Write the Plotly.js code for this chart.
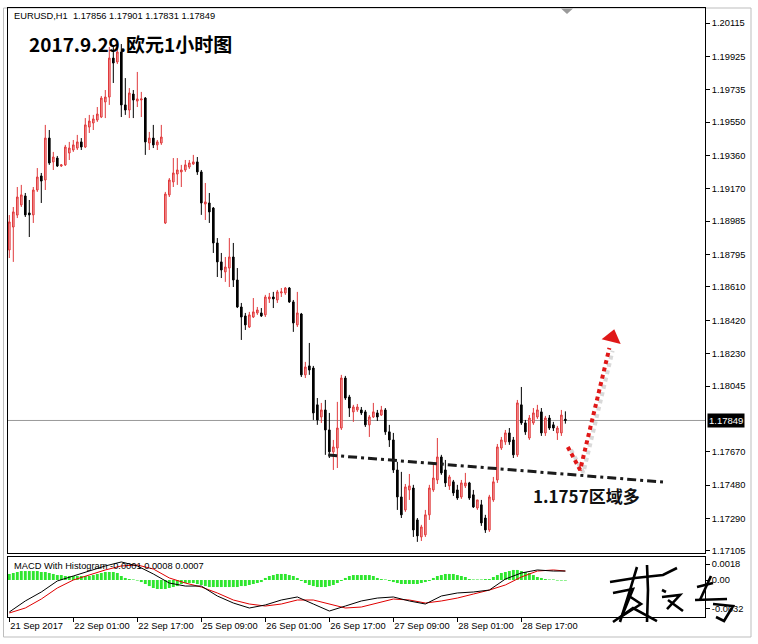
<!DOCTYPE html>
<html><head><meta charset="utf-8">
<script src="https://cdn.plot.ly/plotly-3.0.1.min.js"></script>
<style>html,body{margin:0;padding:0;background:#fff}#chart{width:758px;height:644px}</style>
</head><body><div id="chart"></div>
<script>
// ---- DATA (EURUSD H1, bar index 0 = 21 Sep 2017 09:00) ----
const open = [
1.18821,1.18952,1.19020,1.19078,1.19129,1.19032,1.19021,1.19163,1.19243,1.19220,
1.19459,1.19323,1.19345,1.19300,1.19306,1.19374,1.19391,1.19402,1.19437,1.19408,
1.19522,1.19545,1.19562,1.19579,1.19665,1.19693,1.19915,1.19893,1.19950,1.19648,
1.19619,1.19710,1.19670,1.19676,1.19687,1.19431,1.19459,1.19420,1.19431,1.18975,
1.19135,1.19209,1.19254,1.19266,1.19277,1.19294,1.19311,1.19323,1.19266,1.19083,
1.19089,1.19060,1.18861,1.18753,1.18696,1.18718,1.18781,1.18650,1.18496,1.18445,
1.18382,1.18439,1.18462,1.18462,1.18451,1.18542,1.18553,1.18536,1.18576,1.18576,
1.18604,1.18525,1.18394,1.18456,1.18109,1.18160,1.18148,1.17938,1.17869,1.17909,
1.17795,1.17670,1.17692,1.17806,1.18091,1.17983,1.17898,1.17909,1.17909,1.17898,
1.17824,1.17869,1.17892,1.17880,1.17909,1.17784,1.17738,1.17567,1.17413,1.17339,
1.17453,1.17464,1.17282,1.17185,1.17197,1.17311,1.17453,1.17510,1.17641,1.17567,
1.17476,1.17499,1.17453,1.17413,1.17476,1.17493,1.17425,1.17350,1.17368,1.17293,
1.17225,1.17396,1.17510,1.17692,1.17727,1.17778,1.17738,1.17653,1.17938,1.17835,
1.17749,1.17835,1.17869,1.17898,1.17778,1.17863,1.17824,1.17778,1.17778,1.17856];
const high = [
1.19020,1.19066,1.19180,1.19192,1.19146,1.19106,1.19180,1.19288,1.19260,1.19534,
1.19505,1.19380,1.19357,1.19311,1.19420,1.19437,1.19448,1.19477,1.19459,1.19573,
1.19591,1.19591,1.19636,1.19699,1.19733,1.19978,1.19978,1.20007,1.19995,1.19801,
1.19744,1.19733,1.19836,1.19722,1.19693,1.19494,1.19534,1.19448,1.19534,1.19152,
1.19231,1.19345,1.19345,1.19306,1.19334,1.19334,1.19363,1.19351,1.19277,1.19203,
1.19146,1.19066,1.18889,1.18804,1.18781,1.18889,1.18861,1.18718,1.18519,1.18462,
1.18468,1.18547,1.18496,1.18490,1.18565,1.18576,1.18582,1.18593,1.18604,1.18610,
1.18610,1.18536,1.18582,1.18462,1.18183,1.18291,1.18160,1.17977,1.17949,1.17966,
1.17892,1.17738,1.17955,1.18109,1.18103,1.17995,1.17938,1.17943,1.17926,1.17909,
1.17880,1.17949,1.17909,1.17932,1.17920,1.17824,1.17778,1.17613,1.17556,1.17487,
1.17544,1.17482,1.17293,1.17254,1.17339,1.17482,1.17596,1.17749,1.17653,1.17624,
1.17539,1.17510,1.17482,1.17510,1.17550,1.17499,1.17453,1.17396,1.17396,1.17311,
1.17425,1.17527,1.17715,1.17755,1.17795,1.17806,1.17755,1.17966,1.18040,1.17852,
1.17880,1.17920,1.17938,1.17920,1.17875,1.17880,1.17841,1.17818,1.17909,1.17901];
const low = [
1.18775,1.18753,1.19003,1.19066,1.19009,1.18895,1.18975,1.19152,1.19089,1.19163,
1.19306,1.19277,1.19294,1.19294,1.19300,1.19334,1.19380,1.19391,1.19391,1.19402,
1.19488,1.19505,1.19551,1.19573,1.19573,1.19648,1.19773,1.19881,1.19579,1.19591,
1.19573,1.19573,1.19636,1.19579,1.19363,1.19391,1.19402,1.19391,1.19420,1.18969,
1.19123,1.19180,1.19192,1.19180,1.19266,1.19283,1.19306,1.19249,1.19021,1.18992,
1.18975,1.18804,1.18667,1.18661,1.18639,1.18610,1.18610,1.18490,1.18308,1.18365,
1.18376,1.18433,1.18451,1.18439,1.18439,1.18519,1.18490,1.18519,1.18553,1.18565,
1.18519,1.18354,1.18382,1.18097,1.18091,1.18109,1.17852,1.17824,1.17835,1.17653,
1.17635,1.17567,1.17578,1.17795,1.17966,1.17869,1.17841,1.17898,1.17880,1.17812,
1.17755,1.17863,1.17846,1.17875,1.17767,1.17698,1.17550,1.17339,1.17293,1.17328,
1.17396,1.17185,1.17157,1.17162,1.17185,1.17282,1.17442,1.17487,1.17539,1.17470,
1.17453,1.17419,1.17396,1.17402,1.17464,1.17396,1.17350,1.17339,1.17248,1.17208,
1.17214,1.17385,1.17493,1.17681,1.17710,1.17710,1.17635,1.17641,1.17824,1.17767,
1.17738,1.17824,1.17858,1.17761,1.17761,1.17795,1.17789,1.17738,1.17761,1.17831];
const close = [
1.18981,1.19038,1.19123,1.19135,1.19021,1.19021,1.19163,1.19237,1.19214,1.19459,
1.19317,1.19351,1.19300,1.19306,1.19408,1.19402,1.19420,1.19437,1.19408,1.19534,
1.19556,1.19568,1.19596,1.19687,1.19693,1.19915,1.19887,1.19950,1.19648,1.19619,
1.19716,1.19676,1.19682,1.19682,1.19437,1.19459,1.19420,1.19437,1.19465,1.19140,
1.19220,1.19260,1.19277,1.19277,1.19306,1.19317,1.19323,1.19266,1.19089,1.19095,
1.19038,1.18861,1.18753,1.18707,1.18724,1.18781,1.18650,1.18496,1.18439,1.18394,
1.18451,1.18468,1.18479,1.18445,1.18553,1.18553,1.18542,1.18582,1.18582,1.18604,
1.18525,1.18405,1.18462,1.18109,1.18154,1.18137,1.17892,1.17852,1.17909,1.17795,
1.17670,1.17698,1.17806,1.18091,1.17977,1.17920,1.17926,1.17926,1.17892,1.17824,
1.17869,1.17898,1.17869,1.17909,1.17784,1.17738,1.17567,1.17413,1.17311,1.17470,
1.17476,1.17225,1.17191,1.17242,1.17311,1.17464,1.17521,1.17641,1.17550,1.17493,
1.17527,1.17436,1.17407,1.17493,1.17493,1.17407,1.17356,1.17396,1.17265,1.17225,
1.17413,1.17499,1.17698,1.17738,1.17778,1.17727,1.17653,1.17949,1.17835,1.17784,
1.17863,1.17892,1.17909,1.17778,1.17863,1.17806,1.17806,1.17806,1.17880,1.17849];

const histogram = [
0.00068,0.00079,0.0009,0.00101,0.00101,0.00101,0.00101,0.00101,0.0009,
0.0009,0.00079,0.00068,0.00056,0.00056,0.00045,0.00045,0.00045,0.00045,0.00045,0.00045,0.00045,
0.00056,0.00068,0.00079,0.0009,0.0009,0.0009,0.00079,
0.00045,0.00023,0.00011,0.00006,-0.00006,
-0.00023,-0.00045,-0.00068,-0.0009,-0.00101,-0.00101,-0.00101,-0.0009,-0.00079,-0.00068,
-0.00045,-0.00034,-0.00034,-0.00034,-0.00045,
-0.00056,-0.00068,-0.00079,-0.00079,-0.00079,-0.00079,-0.00079,-0.00079,-0.00079,-0.00079,-0.00068,-0.00068,-0.00056,-0.00045,-0.00034,-0.00023,
0.00023,0.00045,0.00056,0.00068,0.00068,0.00068,0.00056,0.00045,0.00023,
-0.00011,-0.00034,-0.00056,-0.00068,-0.00079,-0.00079,-0.00079,-0.00068,-0.00056,-0.00034,-0.00011,
0.00023,0.00045,0.00056,0.00056,0.00056,0.00056,0.00056,0.00045,0.00023,
0.00011,0.00006,-0.00011,
-0.00023,-0.00034,-0.00045,-0.00045,-0.00045,-0.00045,-0.00045,-0.00034,-0.00023,-0.00011,
0.00023,0.00045,0.00056,0.00068,0.00068,0.00068,0.00056,0.00045,0.00034,
0.00011,0.00006,0.00006,0.00006,0.00011,0.00011,
0.00034,0.00056,0.00079,0.0009,0.00101,0.00113,0.00113,0.00101,0.0009,0.00079,0.00056,
0.00034,0.00023,0.00011,0.00006,0.00006,-0.00006,-0.00006,-0.00006];

const macdIdx = [0,4,8,12,16,20,24,28,32,36,40,44,48,52,56,60,64,68,72,76,80,84,88,92,96,100,104,108,112,116,120,124,128,132,136,139];
const macdLine = [-0.0036,-0.00236,-0.00135,-0.00011,0.00045,0.00101,0.00158,0.00203,0.00158,0.00068,-0.00034,-0.00068,-0.00068,-0.0018,-0.00259,-0.00315,-0.00281,-0.00225,-0.00191,-0.0027,-0.00349,-0.00293,-0.00236,-0.00203,-0.00191,-0.00236,-0.0027,-0.0018,-0.00146,-0.00135,-0.00113,0.00011,0.00079,0.00113,0.00101,0.00101];
const signalLine = [-0.00371,-0.00315,-0.00214,-0.0009,0,0.00056,0.00113,0.00158,0.00169,0.00124,0.00023,-0.00034,-0.00079,-0.00146,-0.00225,-0.0027,-0.00293,-0.0027,-0.00225,-0.00225,-0.0027,-0.00315,-0.00304,-0.00259,-0.00214,-0.00225,-0.00259,-0.00236,-0.00203,-0.00158,-0.00113,-0.00056,0.00034,0.00101,0.00113,0.00101];

const priceTicks = [1.20115,1.19925,1.19735,1.19550,1.19360,1.19170,1.18985,1.18795,1.18610,1.18420,1.18230,1.18045,1.17670,1.17480,1.17290,1.17105];
const priceTickText = ["1.20115","1.19925","1.19735","1.19550","1.19360","1.19170","1.18985","1.18795","1.18610","1.18420","1.18230","1.18045","1.17670","1.17480","1.17290","1.17105"];
const timeTickIdx = [0,16,32,48,64,80,96,112,128];
const timeTickText = ["21 Sep 2017","22 Sep 01:00","22 Sep 17:00","25 Sep 09:00","26 Sep 01:00","26 Sep 17:00","27 Sep 09:00","28 Sep 01:00","28 Sep 17:00"];
const macdTicks = [0.0018,0,-0.0032];
const macdTickText = ["0.0018","0.00","-0.0032"];
const lastPrice = 1.17849;
const trendX = [79.7,163.4];
const trendY = [1.17652,1.17498];
const arrowX = [139.6,142.7,150.0];
const arrowY = [1.17698,1.17567,1.18262];
const arrowHeadX = [150.7];
const arrowHeadY = [1.18322];

// ---- DRAW ----
const idx = open.map((_, i) => i);
const font = "Liberation Sans, Arial, sans-serif";
const cjk = "Noto Sans CJK SC, sans-serif";

// pixel -> paper helpers for decorations
const PL = 8, PR = 705, PT = 8, PB = 617;
const px = x => (x - PL) / (PR - PL);
const py = y => (PB - y) / (PB - PT);
const path = pts => pts.map((p, k) => (k ? 'L' : 'M') + px(p[0]).toFixed(4) + ',' + py(p[1]).toFixed(4)).join(' ');

const traces = [
  {type:'candlestick', x:idx, open:open, high:high, low:low, close:close, xaxis:'x', yaxis:'y',
   increasing:{line:{color:'#e0393b', width:1}, fillcolor:'#f4a7a7'},
   decreasing:{line:{color:'#000000', width:1}, fillcolor:'#000000'},
   whiskerwidth:0, hoverinfo:'skip', showlegend:false},
  {type:'scatter', mode:'lines', x:trendX, y:trendY, xaxis:'x', yaxis:'y',
   line:{color:'#1b1b1b', width:3, dash:'9px,4px,3px,4px'}, hoverinfo:'skip', showlegend:false},
  {type:'scatter', mode:'lines', x:arrowX.map(v => v + 0.8), y:arrowY.map(v => v - 0.00016), xaxis:'x', yaxis:'y',
   line:{color:'rgba(120,120,120,0.28)', width:4, dash:'4px,3.5px'}, hoverinfo:'skip', showlegend:false},
  {type:'scatter', mode:'lines', x:arrowX, y:arrowY, xaxis:'x', yaxis:'y',
   line:{color:'#e01818', width:4, dash:'4px,3.5px'}, hoverinfo:'skip', showlegend:false},
  {type:'scatter', mode:'markers', x:arrowHeadX, y:arrowHeadY, xaxis:'x', yaxis:'y',
   marker:{symbol:'triangle-up', size:17, angle:14, color:'#e01818', line:{width:0}}, hoverinfo:'skip', showlegend:false},
  {type:'bar', x:idx, y:histogram, xaxis:'x2', yaxis:'y2', width:0.72,
   marker:{color:'#2ee62e', line:{width:0}}, hoverinfo:'skip', showlegend:false},
  {type:'scatter', mode:'lines', x:macdIdx, y:signalLine, xaxis:'x2', yaxis:'y2',
   line:{color:'#e00000', width:1}, hoverinfo:'skip', showlegend:false},
  {type:'scatter', mode:'lines', x:macdIdx, y:macdLine, xaxis:'x2', yaxis:'y2',
   line:{color:'#000000', width:1}, hoverinfo:'skip', showlegend:false}
];

const xr = [-0.325, 173.9];
const signature = [
  [[610,582],[635,578],[663,575],[677,568]],
  [[647,565],[648,590],[647,622]],
  [[637,567],[630,590],[620,622]],
  [[613,593],[633,589],[622,616],[641,604],[629,596]],
  [[613,622],[633,608],[657,621]],
  [[662,590],[666,592]],
  [[662,597],[680,595],[667,609]],
  [[668,600],[683,611]],
  [[697,587],[713,583]],
  [[711,576],[700,600]],
  [[695,600],[727,599]],
  [[713,604],[733,606],[724,621],[716,617]]
];

const shapes = [
  {type:'line', xref:'paper', yref:'y', x0:0, x1:1, y0:lastPrice, y1:lastPrice, line:{color:'#9a9a9a', width:1}, layer:'below'},
  {type:'rect', xref:'paper', yref:'paper', x0:px(3.5), x1:px(751), y0:py(637), y1:py(8), line:{color:'#bdbdbd', width:1}, layer:'below'},
  {type:'path', xref:'paper', yref:'paper', path: path([[561,8.5],[573,8.5],[567,14]]) + ' Z', fillcolor:'#9a9a9a', line:{width:0}}
].concat(signature.map(s => ({type:'path', xref:'paper', yref:'paper', path:path(s), line:{color:'#000', width:2.6}})));

const annotations = [
  {xref:'paper', yref:'paper', x:px(12), y:py(16), xanchor:'left', yanchor:'middle', showarrow:false,
   text:'EURUSD,H1  1.17856 1.17901 1.17831 1.17849', font:{family:font, size:9.3, color:'#000'}},
  {xref:'paper', yref:'paper', x:px(27), y:py(43), xanchor:'left', yanchor:'middle', showarrow:false,
   text:'<b>2017.9.29.欧元1小时图</b>', font:{family:cjk, size:19, color:'#000'}},
  {xref:'paper', yref:'paper', x:px(531), y:py(495), xanchor:'left', yanchor:'middle', showarrow:false,
   text:'<b>1.1757区域多</b>', font:{family:cjk, size:17, color:'#111'}},
  {xref:'paper', yref:'paper', x:px(12), y:py(566), xanchor:'left', yanchor:'middle', showarrow:false,
   text:'MACD With Histogram -0.0001 0.0008 0.0007', font:{family:font, size:9.3, color:'#000'}},
  {xref:'paper', yref:'y', x:1, y:lastPrice, xshift:2, xanchor:'left', yanchor:'middle', showarrow:false,
   text:'1.17849', bgcolor:'#000', borderpad:1, font:{family:font, size:9.5, color:'#fff'}}
];

const layout = {
  width:758, height:644,
  margin:{l:PL, r:758-PR, t:PT, b:644-PB, pad:0},
  paper_bgcolor:'#fff', plot_bgcolor:'#fff',
  showlegend:false, boxgap:0.42, bargap:0.2,
  xaxis:{domain:[0,1], range:xr, anchor:'y', showticklabels:false, ticks:'', showgrid:false, zeroline:false,
         showline:true, mirror:true, linecolor:'#000', linewidth:1, rangeslider:{visible:false}, fixedrange:true},
  yaxis:{domain:[0.1051,1], range:[1.170935,1.202005], side:'right', anchor:'x', tickmode:'array', tickvals:priceTicks, ticktext:priceTickText,
         ticks:'outside', ticklen:4, tickcolor:'#000', showgrid:false, zeroline:false, tickangle:0,
         showline:true, mirror:true, linecolor:'#000', linewidth:1, tickfont:{family:font, size:9.3, color:'#000'}},
  xaxis2:{domain:[0,1], range:xr, anchor:'y2', tickmode:'array', tickvals:timeTickIdx, ticktext:timeTickText,
          ticks:'outside', ticklen:4, tickcolor:'#000', ticklabelposition:'outside right', tickangle:0, showgrid:false, zeroline:false,
          showline:true, mirror:true, linecolor:'#000', linewidth:1, tickfont:{family:font, size:9.3, color:'#000'}},
  yaxis2:{domain:[0,0.0985], range:[-0.0041625,0.0025875], side:'right', anchor:'x2', tickmode:'array', tickvals:macdTicks, ticktext:macdTickText,
          ticks:'outside', ticklen:4, tickcolor:'#000', showgrid:false, zeroline:false, tickangle:0,
          showline:true, mirror:true, linecolor:'#000', linewidth:1, tickfont:{family:font, size:9.3, color:'#000'}},
  shapes:shapes, annotations:annotations
};

Plotly.newPlot('chart', traces, layout, {displayModeBar:false, staticPlot:true});
</script></body></html>
